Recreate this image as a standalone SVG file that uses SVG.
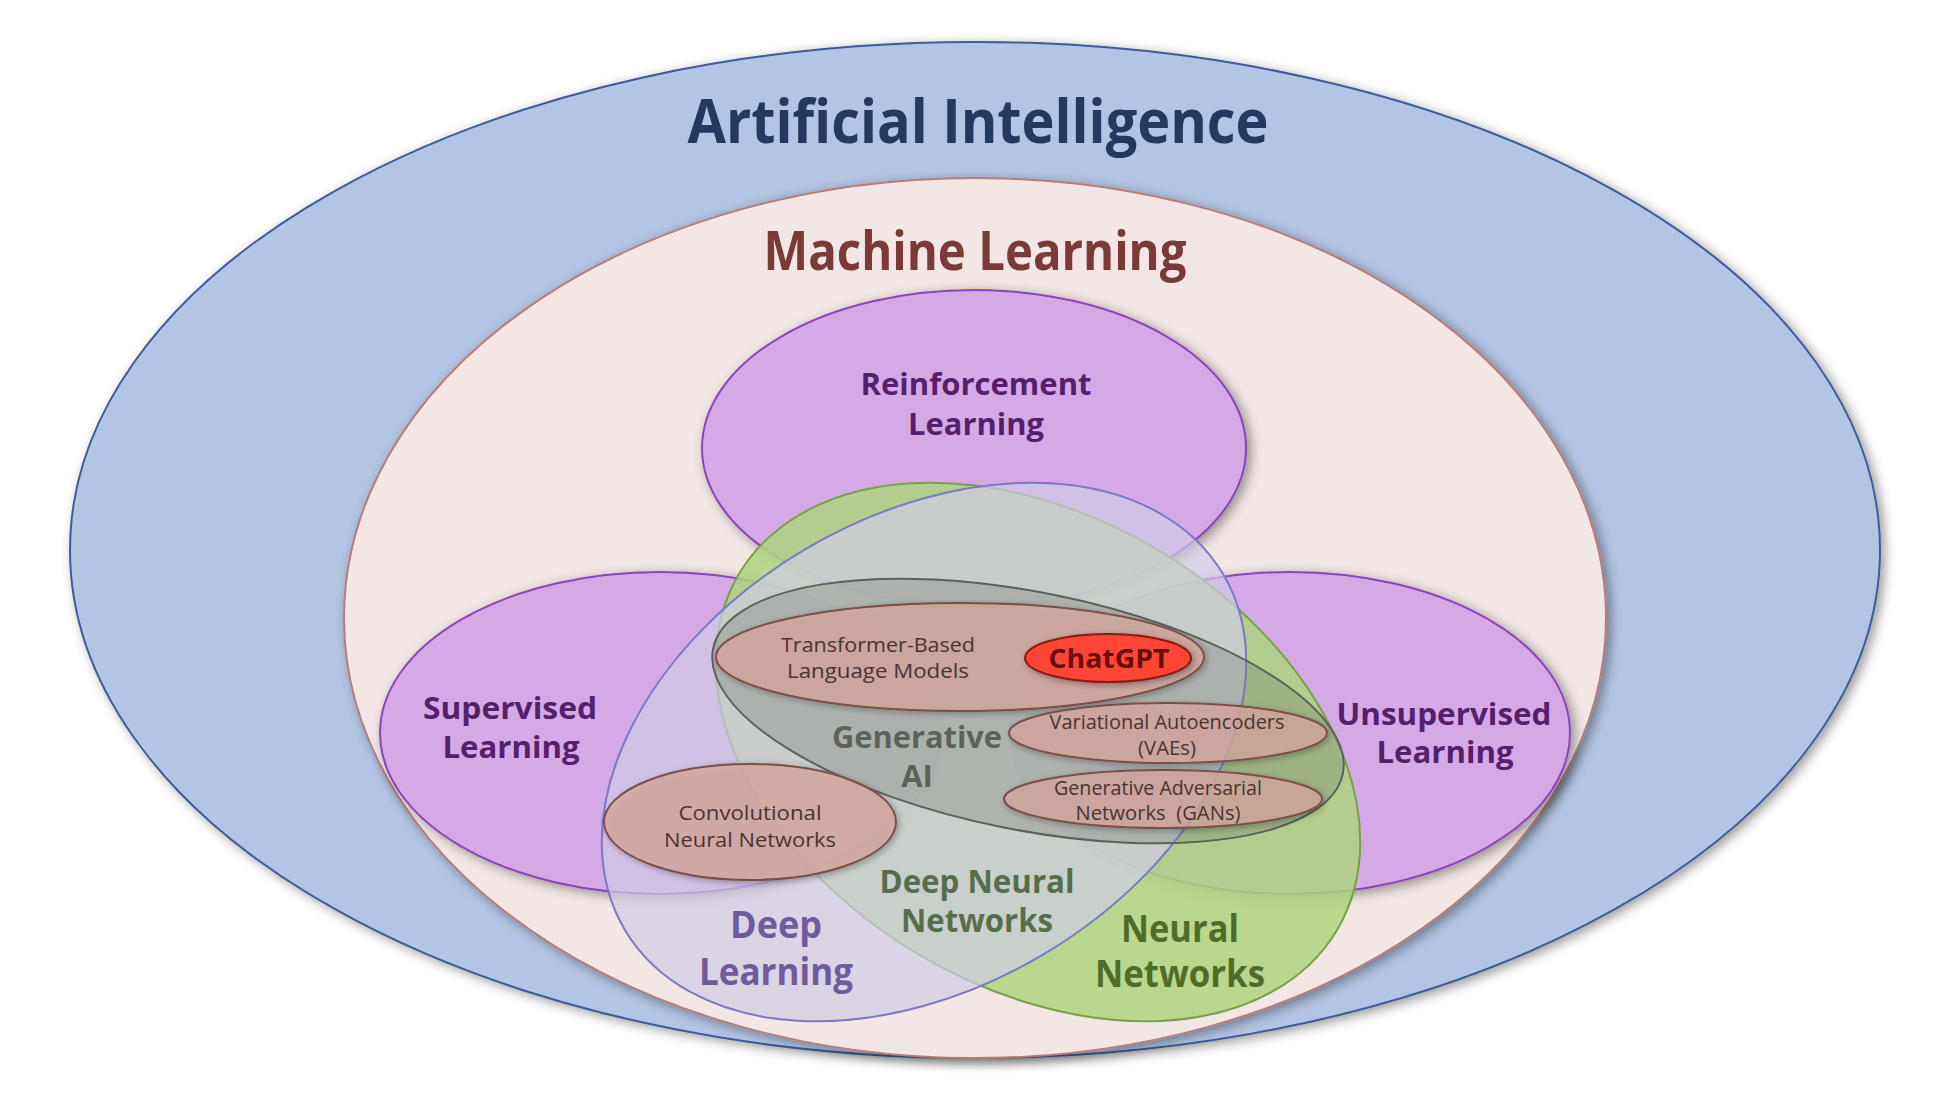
<svg xmlns="http://www.w3.org/2000/svg" width="1950" height="1117" viewBox="0 0 1950 1117">
<defs>
<filter id="shadow" x="-10%" y="-10%" width="125%" height="125%">
<feGaussianBlur in="SourceAlpha" stdDeviation="6"/>
<feOffset dx="4" dy="3" result="b"/>
<feComponentTransfer><feFuncA type="linear" slope="0.4"/></feComponentTransfer>
<feMerge><feMergeNode/><feMergeNode in="SourceGraphic"/></feMerge>
</filter>
<filter id="shadowSm" x="-20%" y="-40%" width="140%" height="180%">
<feGaussianBlur in="SourceAlpha" stdDeviation="3"/>
<feOffset dx="2" dy="2" result="b"/>
<feComponentTransfer><feFuncA type="linear" slope="0.35"/></feComponentTransfer>
<feMerge><feMergeNode/><feMergeNode in="SourceGraphic"/></feMerge>
</filter>
</defs>
<style>
text{font-family:"Open Sans","Noto Sans","Liberation Sans",sans-serif;text-anchor:middle}
.b{font-weight:700}
.purple{fill:#d4a9e6;stroke:#8b45b8;stroke-width:2}
.inner{fill:#d9aaa0;fill-opacity:0.75;stroke:#7b5049;stroke-width:2}
.plab{fill:#55206b;font-size:31px;font-weight:700}
.ilab{fill:#4a3430;font-size:20px}
</style>
<rect width="1950" height="1117" fill="#ffffff"/>
<g id="ai">
<ellipse cx="975" cy="550" rx="905" ry="508" fill="#b3c5e4" stroke="#3d5b98" stroke-width="2" filter="url(#shadow)"/>
<text class="b" x="978" y="143" font-size="60" fill="#23395d" textLength="581" lengthAdjust="spacingAndGlyphs">Artificial Intelligence</text>
</g>
<g id="ml">
<ellipse cx="975" cy="618" rx="631" ry="440" fill="#f3e7e5" stroke="#b67d78" stroke-width="2" filter="url(#shadow)"/>
<text class="b" x="975" y="270" font-size="53" fill="#7a3a35" textLength="423" lengthAdjust="spacingAndGlyphs">Machine Learning</text>
</g>
<g id="rl">
<ellipse class="purple" cx="974" cy="448" rx="272" ry="158" filter="url(#shadow)"/>
<text class="plab" x="976" y="395" textLength="231" lengthAdjust="spacingAndGlyphs">Reinforcement</text>
<text class="plab" x="976" y="435" textLength="136" lengthAdjust="spacingAndGlyphs">Learning</text>
</g>
<g id="sl">
<ellipse class="purple" cx="660" cy="733" rx="280" ry="161" filter="url(#shadow)"/>
<text class="plab" x="510" y="719" textLength="174" lengthAdjust="spacingAndGlyphs">Supervised</text>
<text class="plab" x="511" y="758" textLength="137" lengthAdjust="spacingAndGlyphs">Learning</text>
</g>
<g id="ul">
<ellipse class="purple" cx="1290" cy="733" rx="280" ry="161" filter="url(#shadow)"/>
<text class="plab" x="1444" y="725" textLength="215" lengthAdjust="spacingAndGlyphs">Unsupervised</text>
<text class="plab" x="1445" y="763" textLength="137" lengthAdjust="spacingAndGlyphs">Learning</text>
</g>
<g id="nn">
<ellipse cx="1038" cy="752" rx="348" ry="235" transform="rotate(30.8 1038 752)" fill="#aed47e" fill-opacity="0.85" stroke="#78a048" stroke-width="2"/>
</g>
<g id="dl">
<ellipse cx="924" cy="752" rx="348" ry="235" transform="rotate(-30.8 924 752)" fill="#d0cce6" fill-opacity="0.7" stroke="#7a7ac4" stroke-width="2"/>
</g>
<g id="genai">
<ellipse cx="1028" cy="711" rx="321" ry="119" transform="rotate(11.2 1028 711)" fill="#6f756c" fill-opacity="0.3" stroke="#5c615a" stroke-width="2"/>
<text class="b" x="917" y="748" font-size="31" fill="#5c625a" textLength="170" lengthAdjust="spacingAndGlyphs">Generative</text>
<text class="b" x="917" y="787" font-size="31" fill="#5c625a">AI</text>
</g>
<g id="dnn-label">
<text class="b" x="977" y="893" font-size="33" fill="#566e4c" textLength="195" lengthAdjust="spacingAndGlyphs">Deep Neural</text>
<text class="b" x="977" y="932" font-size="33" fill="#566e4c" textLength="152" lengthAdjust="spacingAndGlyphs">Networks</text>
</g>
<g id="dl-label">
<text class="b" x="776" y="938" font-size="37" fill="#6e5a9c" textLength="92" lengthAdjust="spacingAndGlyphs">Deep</text>
<text class="b" x="776" y="985" font-size="37" fill="#6e5a9c" textLength="154" lengthAdjust="spacingAndGlyphs">Learning</text>
</g>
<g id="nn-label">
<text class="b" x="1180" y="942" font-size="37" fill="#4e6d2a" textLength="118" lengthAdjust="spacingAndGlyphs">Neural</text>
<text class="b" x="1180" y="987" font-size="37" fill="#4e6d2a" textLength="170" lengthAdjust="spacingAndGlyphs">Networks</text>
</g>
<g id="transformer">
<ellipse class="inner" cx="960" cy="657" rx="244" ry="54" filter="url(#shadowSm)"/>
<text class="ilab" x="878" y="652" textLength="194" lengthAdjust="spacingAndGlyphs">Transformer-Based</text>
<text class="ilab" x="878" y="678" textLength="182" lengthAdjust="spacingAndGlyphs">Language Models</text>
</g>
<g id="chatgpt">
<ellipse cx="1108" cy="658" rx="83" ry="24" fill="#ff4434" stroke="#8a1a12" stroke-width="2" filter="url(#shadowSm)"/>
<text class="b" x="1109" y="668" font-size="27" fill="#6a0d0d" textLength="121" lengthAdjust="spacingAndGlyphs">ChatGPT</text>
</g>
<g id="vae">
<ellipse class="inner" cx="1168" cy="733" rx="159" ry="30" filter="url(#shadowSm)"/>
<text class="ilab" x="1167" y="729" font-size="19" textLength="235" lengthAdjust="spacingAndGlyphs">Variational Autoencoders</text>
<text class="ilab" x="1167" y="755" font-size="19" textLength="58" lengthAdjust="spacingAndGlyphs">(VAEs)</text>
</g>
<g id="gan">
<ellipse class="inner" cx="1163" cy="799" rx="159" ry="29" filter="url(#shadowSm)"/>
<text class="ilab" x="1158" y="795" font-size="19" textLength="208" lengthAdjust="spacingAndGlyphs">Generative Adversarial</text>
<text class="ilab" x="1158" y="820" font-size="19" textLength="165" lengthAdjust="spacingAndGlyphs" xml:space="preserve">Networks  (GANs)</text>
</g>
<g id="cnn">
<ellipse class="inner" cx="750" cy="822" rx="146" ry="58" filter="url(#shadowSm)"/>
<text class="ilab" x="750" y="820" textLength="143" lengthAdjust="spacingAndGlyphs">Convolutional</text>
<text class="ilab" x="750" y="847" textLength="172" lengthAdjust="spacingAndGlyphs">Neural Networks</text>
</g>
<g id="connectors"/>
</svg>
